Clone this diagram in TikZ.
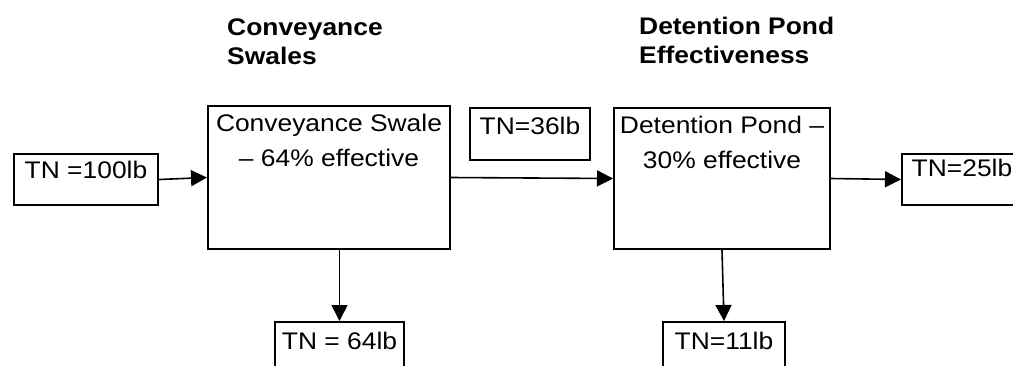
\documentclass[tikz,border=0pt]{standalone}
\usepackage{fontspec}
\setmainfont{Liberation Sans}[FakeStretch=1.1]
\usetikzlibrary{arrows.meta}

\begin{document}
\begin{tikzpicture}[x=1pt, y=-1pt, >={Triangle[length=16pt,width=16pt]},
  box/.style={draw, line width=2pt, inner sep=0pt, anchor=north west, align=center,
    font=\fontsize{24}{35}\selectfont},
  head/.style={anchor=base west, inner sep=0pt, align=left,
    font=\bfseries\fontsize{24}{29}\selectfont},
  flow/.style={->, line width=1.6pt}]
  % 1. Page frame
  \fill[white] (0,0) rectangle (1013,365);
  \useasboundingbox (0,0) rectangle (1013,365);
  % 2. Headings over the two stages
  \node[head] (swalehead) at (227,64) {Conveyance\\Swales};
  \node[head] (pondhead) at (639,63) {Detention Pond\\Effectiveness};
  % 3. Treatment boxes
  \node[box, minimum width=242pt, text height=60pt, text depth=83pt] (swale) at (207,105)
    {Conveyance Swale\\– 64\% effective};
  \node[box, minimum width=216pt, text height=60pt, text depth=81pt] (pond) at (613,107)
    {Detention Pond –\\30\% effective};
  % 4. Loads
  \node[box, minimum width=144pt, text height=24pt, text depth=27pt] (in100) at (13,153) {TN =100lb};
  \node[box, minimum width=120pt, text height=26pt, text depth=26pt] (tn36) at (469,107) {TN=36lb};
  \node[box, minimum width=120pt, text height=22pt, text depth=29pt] (out25) at (901,153) {TN=25lb};
  \node[box, minimum width=129pt, text height=27pt, text depth=25pt] (out64) at (274,321) {TN = 64lb};
  \node[box, minimum width=122pt, text height=27pt, text depth=25pt] (out11) at (662,321) {TN=11lb};
  % 5. Flows
  \draw[flow] (in100.east) -- (swale.west);
  \draw[flow] (swale.east) -- (pond.west);
  \draw[flow] (pond.east) -- (out25.west);
  \draw[flow] (swale.south -| out64.north) -- (out64.north);
  \draw[flow] (pond.south) -- (out11.north);
\end{tikzpicture}
\end{document}
